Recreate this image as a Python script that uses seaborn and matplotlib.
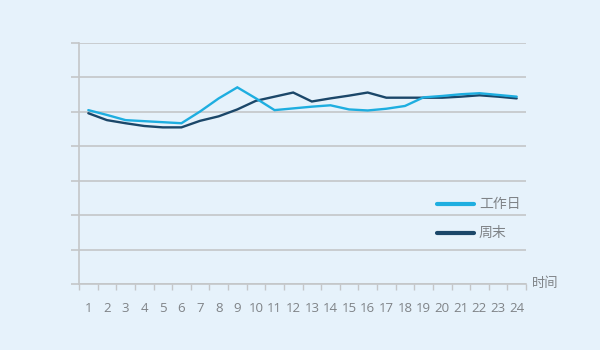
import matplotlib
matplotlib.use("Agg")
import matplotlib.pyplot as plt
import seaborn as sns
import pandas as pd
import numpy as np

# Hourly index values for workdays and weekends
hours = list(range(1, 25))
workday = [5.04, 4.90, 4.75, 4.72, 4.69, 4.66, 5.00, 5.38, 5.70, 5.38, 5.04, 5.09,
           5.14, 5.18, 5.06, 5.03, 5.08, 5.16, 5.41, 5.45, 5.50, 5.53, 5.48, 5.43]
weekend = [4.95, 4.75, 4.66, 4.58, 4.54, 4.54, 4.73, 4.86, 5.06, 5.31, 5.43, 5.55,
           5.29, 5.38, 5.46, 5.55, 5.40, 5.40, 5.40, 5.40, 5.43, 5.47, 5.43, 5.38]
series_names = ["工作日", "周末"]
x_label = "时间"

df = pd.DataFrame({
    "hour": hours * 2,
    "value": workday + weekend,
    "series": [series_names[0]] * 24 + [series_names[1]] * 24,
})

bg = "#e6f2fb"
grid_c = "#c4c6c8"
text_c = "#7f8387"
palette = {series_names[0]: "#1eaee0", series_names[1]: "#1b4769"}

sns.set_theme(style="white")
plt.rcParams["font.family"] = ["Noto Sans CJK SC", "DejaVu Sans"]

fig = plt.figure(figsize=(6, 3.5), dpi=100, facecolor=bg)
ax = fig.add_axes([79 / 600, 1 - 284 / 350, (526 - 79) / 600, (284 - 42.5) / 350])
ax.set_facecolor(bg)

# draw weekend first so the workday line sits on top
sns.lineplot(data=df, x="hour", y="value", hue="series", palette=palette,
             hue_order=[series_names[1], series_names[0]],
             linewidth=1.7, ax=ax, legend=False, zorder=3)
for line in ax.lines:
    line.set_solid_joinstyle("miter")

ax.set_xlim(0.5, 24.5)
ax.set_ylim(0, 7)
ax.set_yticks(range(0, 8))
ax.set_yticklabels([])
ax.yaxis.grid(True, color=grid_c, linewidth=1.2)
ax.tick_params(axis="y", length=6, width=1.2, color=grid_c, left=True, pad=0)

ax.set_xticks(hours)
ax.set_xticklabels([str(h) for h in hours], color=text_c, fontsize=9.5,
                   family=["Open Sans", "DejaVu Sans"])
ax.set_xticks(np.arange(0.5, 25, 1), minor=True)
ax.tick_params(axis="x", which="major", length=0, pad=13)
ax.tick_params(axis="x", which="minor", length=4, width=1.0, color=grid_c,
               bottom=True, direction="out")
ax.set_xlabel("")
ax.set_ylabel("")

for side in ["top", "right"]:
    ax.spines[side].set_visible(False)
for side in ["left", "bottom"]:
    ax.spines[side].set_color(grid_c)
    ax.spines[side].set_linewidth(1.2)

ax.text(1.013, 0.0, x_label, transform=ax.transAxes, ha="left", va="center",
        color=text_c, fontsize=9.5)

# legend drawn manually on the right
for name, yy in [(series_names[0], 204), (series_names[1], 233)]:
    fig.add_artist(plt.Line2D([437 / 600, 474 / 600], [1 - yy / 350] * 2,
                              color=palette[name], linewidth=3.0))
    fig.text(479 / 600, 1 - yy / 350, name, ha="left", va="center",
             color=text_c, fontsize=10)

fig.savefig("out.png", dpi=100, facecolor=bg)
